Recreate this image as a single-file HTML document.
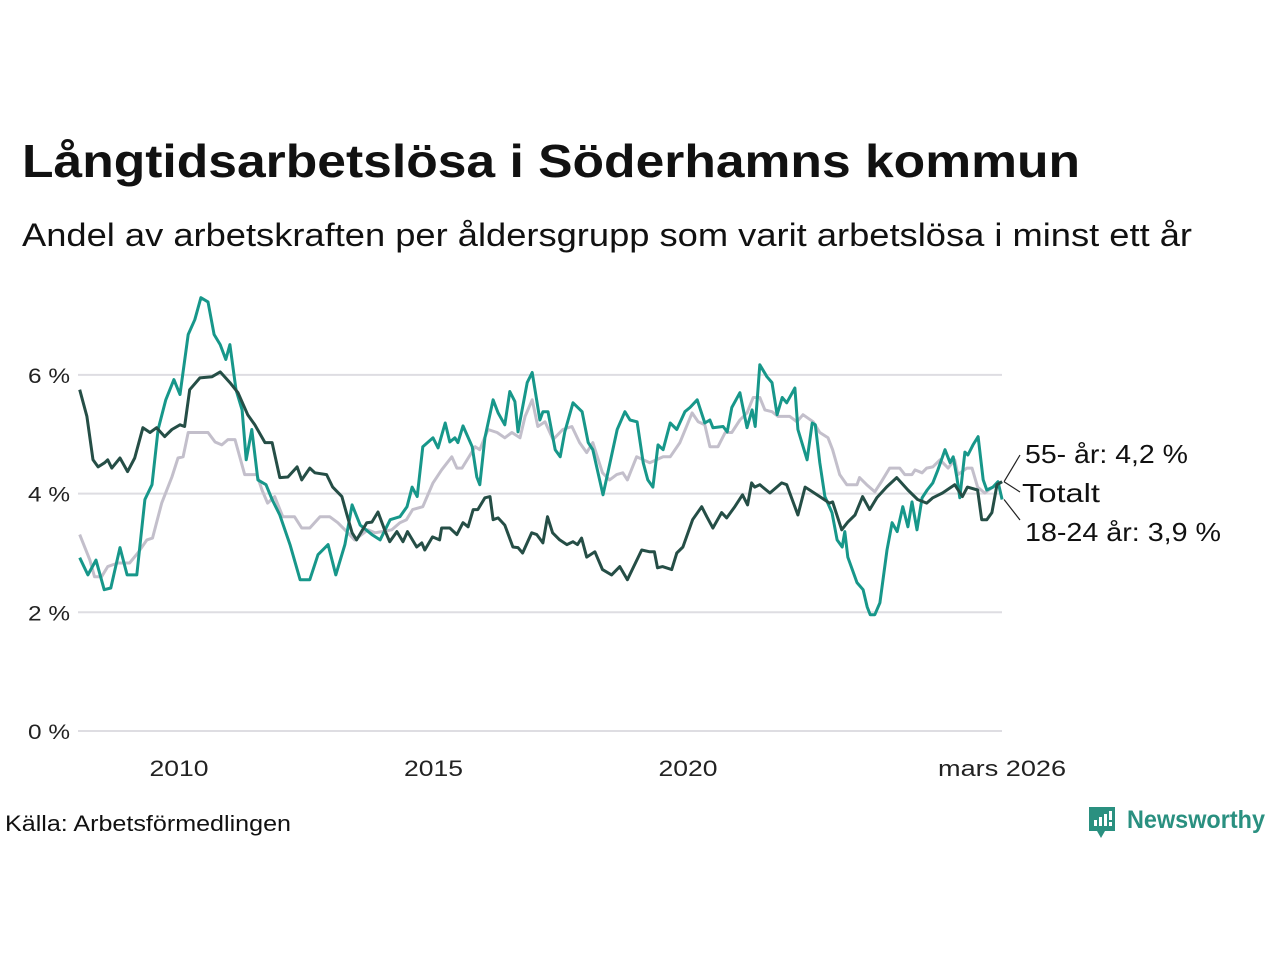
<!DOCTYPE html>
<html><head><meta charset="utf-8"><style>
html,body{margin:0;padding:0;background:#fff;}
svg{display:block;font-family:"Liberation Sans","DejaVu Sans",sans-serif;}
</style></head><body>
<svg id="chart" width="1280" height="960" viewBox="0 0 1280 960">
<text x="22" y="177" font-size="46" font-weight="bold" fill="#111" textLength="1058" lengthAdjust="spacingAndGlyphs">Långtidsarbetslösa i Söderhamns kommun</text>
<text x="22" y="246" font-size="32" fill="#111" textLength="1170" lengthAdjust="spacingAndGlyphs">Andel av arbetskraften per åldersgrupp som varit arbetslösa i minst ett år</text>
<g id="grid"></g>
<g id="yticks"></g>
<g id="xticks"></g>
<g id="series"></g>
<g id="labels"></g>
<text x="5" y="831" font-size="22" fill="#111" textLength="286" lengthAdjust="spacingAndGlyphs">Källa: Arbetsförmedlingen</text>
<g>
<path d="M1089 807 h26 v24 h-10 l-4 7 l-4 -7 h-8 z" fill="#2a9080"/>
<rect x="1094" y="820" width="3" height="6" fill="#fff"/>
<rect x="1099" y="817" width="3" height="9" fill="#fff"/>
<rect x="1104" y="814" width="3" height="12" fill="#fff"/>
<rect x="1109" y="811" width="3" height="9" fill="#fff"/><rect x="1109" y="822" width="3" height="4" fill="#fff"/>
<text x="1127" y="828" font-size="25" font-weight="bold" fill="#2a9080" textLength="138" lengthAdjust="spacingAndGlyphs">Newsworthy</text>
</g>
</svg>
<script>
const yTicks=[0,2,4,6];
const yTickLabels=["0 %","2 %","4 %","6 %"];
const xTicks=[2010,2015,2020,2026.17];
const xTickLabels=["2010","2015","2020","mars 2026"];
const seriesNames=["55- år","Totalt","18-24 år"];
const greyDates=[2008.05,2008.25,2008.34,2008.48,2008.60,2008.80,2009.03,2009.19,2009.37,2009.48,2009.66,2009.86,2009.98,2010.08,2010.18,2010.57,2010.71,2010.84,2010.96,2011.10,2011.29,2011.53,2011.63,2011.74,2011.88,2012.04,2012.27,2012.41,2012.57,2012.77,2012.96,2013.12,2013.26,2013.45,2013.59,2013.71,2013.85,2014.18,2014.34,2014.47,2014.59,2014.79,2014.99,2015.16,2015.36,2015.46,2015.56,2015.82,2015.91,2016.07,2016.25,2016.40,2016.54,2016.70,2016.80,2016.94,2017.05,2017.19,2017.35,2017.54,2017.72,2017.87,2018.01,2018.13,2018.32,2018.46,2018.60,2018.72,2018.81,2018.99,2019.25,2019.51,2019.65,2019.84,2020.08,2020.20,2020.33,2020.43,2020.59,2020.73,2020.86,2021.02,2021.16,2021.28,2021.41,2021.51,2021.65,2021.77,2022.00,2022.14,2022.26,2022.46,2022.59,2022.75,2022.84,2022.98,2023.12,2023.32,2023.37,2023.51,2023.67,2023.80,2023.96,2024.16,2024.26,2024.40,2024.46,2024.60,2024.69,2024.81,2024.95,2025.11,2025.24,2025.30,2025.48,2025.58,2025.69,2025.83,2025.99,2026.17];
const greyValues=[3.31,2.88,2.60,2.60,2.77,2.83,2.83,3.00,3.22,3.25,3.84,4.28,4.60,4.62,5.03,5.03,4.87,4.82,4.91,4.91,4.32,4.32,4.06,3.84,3.95,3.61,3.61,3.42,3.42,3.61,3.61,3.51,3.39,3.22,3.31,3.39,3.34,3.39,3.51,3.56,3.73,3.78,4.18,4.40,4.62,4.43,4.43,4.79,4.74,5.08,5.03,4.94,5.03,4.94,5.30,5.58,5.13,5.21,4.91,5.08,5.13,4.86,4.69,4.86,4.35,4.23,4.32,4.35,4.23,4.62,4.52,4.62,4.62,4.86,5.36,5.21,5.16,4.79,4.79,5.03,5.03,5.24,5.36,5.62,5.62,5.41,5.38,5.30,5.30,5.21,5.33,5.21,5.03,4.94,4.74,4.32,4.15,4.15,4.27,4.15,4.03,4.20,4.43,4.43,4.32,4.32,4.40,4.35,4.43,4.45,4.57,4.43,4.57,4.32,4.43,4.43,4.11,4.01,4.11,4.20];
const totalDates=[2008.05,2008.19,2008.31,2008.41,2008.54,2008.60,2008.68,2008.84,2008.99,2009.13,2009.29,2009.43,2009.56,2009.72,2009.86,2010.02,2010.11,2010.21,2010.41,2010.65,2010.81,2011.00,2011.16,2011.35,2011.49,2011.69,2011.83,2011.98,2012.14,2012.32,2012.41,2012.57,2012.67,2012.90,2013.02,2013.20,2013.30,2013.40,2013.49,2013.69,2013.79,2013.91,2014.04,2014.14,2014.28,2014.40,2014.49,2014.67,2014.77,2014.83,2014.98,2015.12,2015.16,2015.32,2015.46,2015.58,2015.68,2015.78,2015.87,2016.01,2016.11,2016.17,2016.27,2016.40,2016.56,2016.66,2016.75,2016.93,2017.03,2017.15,2017.24,2017.34,2017.48,2017.62,2017.74,2017.83,2017.91,2018.01,2018.17,2018.32,2018.50,2018.66,2018.81,2019.09,2019.25,2019.34,2019.40,2019.50,2019.68,2019.78,2019.90,2020.09,2020.27,2020.37,2020.49,2020.66,2020.76,2020.92,2021.07,2021.17,2021.25,2021.31,2021.41,2021.61,2021.84,2021.94,2022.16,2022.30,2022.39,2022.59,2022.78,2022.84,2023.02,2023.14,2023.28,2023.43,2023.57,2023.71,2023.90,2024.10,2024.32,2024.51,2024.69,2024.81,2025.00,2025.24,2025.39,2025.49,2025.69,2025.77,2025.87,2025.97,2026.07,2026.17];
const totalValues=[5.75,5.30,4.57,4.45,4.52,4.57,4.43,4.60,4.37,4.60,5.11,5.03,5.11,4.96,5.08,5.16,5.13,5.75,5.95,5.97,6.05,5.87,5.70,5.33,5.16,4.86,4.86,4.27,4.28,4.45,4.23,4.43,4.35,4.32,4.11,3.95,3.64,3.34,3.22,3.51,3.52,3.69,3.39,3.19,3.36,3.19,3.36,3.10,3.17,3.05,3.27,3.22,3.42,3.42,3.31,3.51,3.44,3.73,3.73,3.93,3.95,3.56,3.59,3.47,3.10,3.09,3.00,3.34,3.31,3.17,3.61,3.34,3.22,3.14,3.19,3.14,3.25,2.93,3.02,2.72,2.63,2.77,2.55,3.05,3.02,3.02,2.75,2.77,2.72,3.00,3.10,3.56,3.78,3.61,3.42,3.68,3.59,3.78,3.98,3.81,4.18,4.11,4.15,4.01,4.18,4.15,3.64,4.11,4.06,3.95,3.84,3.86,3.39,3.52,3.64,3.95,3.73,3.93,4.11,4.27,4.06,3.90,3.84,3.93,4.01,4.15,3.95,4.11,4.06,3.56,3.56,3.68,4.15,4.20];
const youthDates=[2008.05,2008.21,2008.37,2008.53,2008.66,2008.84,2008.98,2009.17,2009.33,2009.47,2009.59,2009.74,2009.90,2010.02,2010.18,2010.31,2010.43,2010.57,2010.69,2010.81,2010.92,2011.00,2011.12,2011.24,2011.32,2011.43,2011.55,2011.71,2011.83,2011.98,2012.18,2012.38,2012.57,2012.73,2012.93,2013.08,2013.26,2013.40,2013.56,2013.79,2013.95,2014.15,2014.34,2014.48,2014.58,2014.68,2014.79,2014.99,2015.09,2015.23,2015.32,2015.42,2015.48,2015.58,2015.76,2015.85,2015.91,2016.01,2016.17,2016.27,2016.40,2016.50,2016.60,2016.66,2016.84,2016.94,2017.09,2017.15,2017.25,2017.39,2017.49,2017.58,2017.74,2017.92,2018.04,2018.13,2018.33,2018.43,2018.61,2018.76,2018.86,2019.00,2019.12,2019.21,2019.31,2019.41,2019.51,2019.65,2019.78,2019.94,2020.04,2020.18,2020.33,2020.43,2020.49,2020.69,2020.77,2020.86,2021.02,2021.16,2021.26,2021.32,2021.41,2021.55,2021.65,2021.75,2021.85,2021.94,2022.10,2022.16,2022.34,2022.44,2022.50,2022.59,2022.69,2022.83,2022.93,2023.03,2023.08,2023.14,2023.32,2023.44,2023.52,2023.58,2023.67,2023.77,2023.91,2024.01,2024.11,2024.22,2024.32,2024.40,2024.50,2024.60,2024.70,2024.81,2024.91,2025.05,2025.15,2025.21,2025.28,2025.34,2025.44,2025.50,2025.60,2025.70,2025.80,2025.87,2025.99,2026.09,2026.17];
const youthValues=[2.92,2.63,2.88,2.38,2.41,3.09,2.63,2.63,3.90,4.15,5.08,5.58,5.92,5.67,6.68,6.93,7.30,7.23,6.68,6.51,6.26,6.51,5.75,5.41,4.57,5.08,4.23,4.15,3.90,3.64,3.14,2.55,2.55,2.97,3.14,2.63,3.14,3.81,3.47,3.31,3.22,3.56,3.61,3.78,4.11,3.95,4.79,4.94,4.77,5.19,4.87,4.94,4.86,5.14,4.79,4.28,4.15,4.94,5.58,5.36,5.16,5.72,5.55,5.04,5.87,6.04,5.24,5.38,5.38,4.74,4.62,5.04,5.53,5.38,4.86,4.74,3.98,4.37,5.08,5.38,5.24,5.21,4.52,4.23,4.11,4.82,4.74,5.19,5.08,5.38,5.45,5.58,5.19,5.24,5.11,5.13,5.04,5.45,5.70,5.11,5.41,5.13,6.17,5.97,5.87,5.33,5.62,5.53,5.78,5.08,4.57,5.19,5.16,4.52,3.95,3.68,3.22,3.10,3.36,2.93,2.50,2.38,2.09,1.96,1.96,2.16,3.05,3.51,3.36,3.78,3.44,3.86,3.39,3.93,4.06,4.18,4.40,4.74,4.52,4.62,4.28,3.93,4.70,4.65,4.82,4.96,4.23,4.06,4.11,4.20,3.90];

const NS="http://www.w3.org/2000/svg";
const X0=78,X1=1002,D0=2008.0,D1=2026.17;
function xs(d){return 179+(d-2010)*50.9;}
function ys(v){return 731-v*59.35;}
function mk(tag,attrs,parent){const e=document.createElementNS(NS,tag);for(const k in attrs)e.setAttribute(k,attrs[k]);parent.appendChild(e);return e;}
const grid=document.getElementById('grid'),yt=document.getElementById('yticks'),xt=document.getElementById('xticks'),sg=document.getElementById('series'),lg=document.getElementById('labels');
yTicks.forEach((v,i)=>{
  const l=mk('line',{x1:X0,x2:X1,y1:ys(v),y2:ys(v),stroke:'#dedde2','stroke-width':2},grid);
  
  
  const t=mk('text',{x:28,y:ys(v)+8,'font-size':21,fill:'#222',textLength:42,lengthAdjust:'spacingAndGlyphs'},yt);
  t.textContent=yTickLabels[i];
  
  
});
xTicks.forEach((d,i)=>{
  const w=xTickLabels[i].length>4?128:59;
  const t=mk('text',{x:xs(d)-w/2,y:776,'font-size':22,fill:'#222',textLength:w,lengthAdjust:'spacingAndGlyphs'},xt);
  t.textContent=xTickLabels[i];
  
  
});
function draw(dates,vals,color,name){
  const d=dates.map((x,i)=>(i?'L':'M')+xs(x).toFixed(1)+' '+ys(vals[i]).toFixed(1)).join(' ');
  const p=mk('path',{d:d,fill:'none',stroke:color,'stroke-width':3,'stroke-linejoin':'round'},sg);
  
  
}
draw(greyDates,greyValues,'#c3bfcb','line-55-plus');
draw(youthDates,youthValues,'#17978a','line-18-24');
draw(totalDates,totalValues,'#254e46','line-totalt');
const ex=xs(D1);
const lastG=greyValues[greyValues.length-1],lastT=totalValues[totalValues.length-1],lastY=youthValues[youthValues.length-1];
const labelsDef=[[ys(lastG),455,'55- år: 4,2 %',1025,'label-55-plus',163],[ys(lastT),492,'Totalt',1022,'label-totalt',78],[ys(lastY),520,'18-24 år: 3,9 %',1025,'label-18-24',196]];
labelsDef.forEach(([y0,y1,txt,tx,nm,w],i)=>{
  const l=mk('line',{x1:ex+2,y1:y0,x2:1020,y2:y1,stroke:'#222','stroke-width':1.2},lg);
  
  
  const t=mk('text',{x:tx,y:[463,502,541][i],'font-size':26,fill:'#111',textLength:w,lengthAdjust:'spacingAndGlyphs'},lg);
  t.textContent=txt;
  
  
});
</script>
</body></html>
